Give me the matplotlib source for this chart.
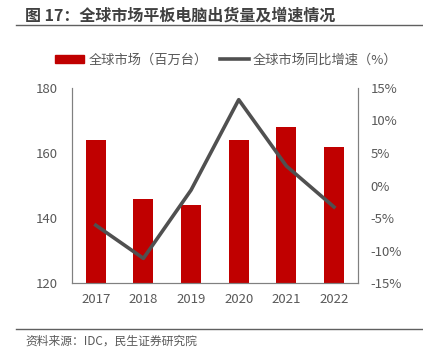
import numpy as np
import matplotlib.pyplot as plt
from matplotlib.lines import Line2D

plt.rcParams["font.family"] = ["Noto Sans CJK SC", "DejaVu Sans"]

years = ["2017", "2018", "2019", "2020", "2021", "2022"]
shipments = [164, 146, 144, 164, 168, 162]  # 百万台
growth = [-6.1, -11.2, -0.7, 13.2, 3.0, -3.3]  # %

bar_color = "#C00000"
line_color = "#505050"
spine_color = "#808080"
text_color = "#595959"

fig = plt.figure(figsize=(4.23, 3.62), dpi=100)
ax1 = fig.add_axes([0.170, 0.218, 0.676, 0.539])
ax2 = ax1.twinx()

x = np.arange(len(years))
ax1.bar(x, shipments, width=0.42, color=bar_color, zorder=2)
ax1.set_ylim(120, 180)
ax1.set_yticks([120, 140, 160, 180])
ax1.set_xlim(-0.5, len(years) - 0.5)
ax1.set_xticks(x)
ax1.set_xticklabels(years)

ax2.plot(x, growth, color=line_color, lw=2.6, zorder=3)
ax2.set_ylim(-15, 15)
ax2.set_yticks(np.arange(-15, 16, 5))
ax2.set_yticklabels([f"{v}%" for v in range(-15, 16, 5)])

for ax in (ax1, ax2):
    ax.spines["top"].set_visible(False)
    for s in ("left", "right", "bottom"):
        ax.spines[s].set_color(spine_color)
        ax.spines[s].set_linewidth(0.8)
    ax.tick_params(length=0, colors=text_color, labelsize=9.5)
ax1.tick_params(axis="y", pad=10)
ax2.tick_params(axis="y", pad=9)
ax1.tick_params(axis="x", pad=7)

handles = [
    plt.Rectangle((0, 0), 1, 1, color=bar_color),
    Line2D([0], [0], color=line_color, lw=2.6),
]
fig.legend(handles, ["全球市场（百万台）", "全球市场同比增速（%）"],
           loc="center", bbox_to_anchor=(0.535, 0.834), ncol=2, frameon=False,
           fontsize=9.5, labelcolor=text_color, handlelength=2.2,
           handleheight=0.5, columnspacing=0.9, handletextpad=0.3)

fig.text(0.059, 0.957, "图 17：全球市场平板电脑出货量及增速情况",
         fontsize=11.5, fontweight="bold", color="#404040", va="center")
fig.add_artist(Line2D([0.038, 1.0], [0.930, 0.930], color="#606060", lw=1.0))
fig.add_artist(Line2D([0.038, 1.0], [0.091, 0.091], color="#606060", lw=1.0))
fig.text(0.059, 0.058, "资料来源：IDC，民生证券研究院", fontsize=8.5,
         color=text_color, va="center")

fig.savefig("out.png", dpi=100)
